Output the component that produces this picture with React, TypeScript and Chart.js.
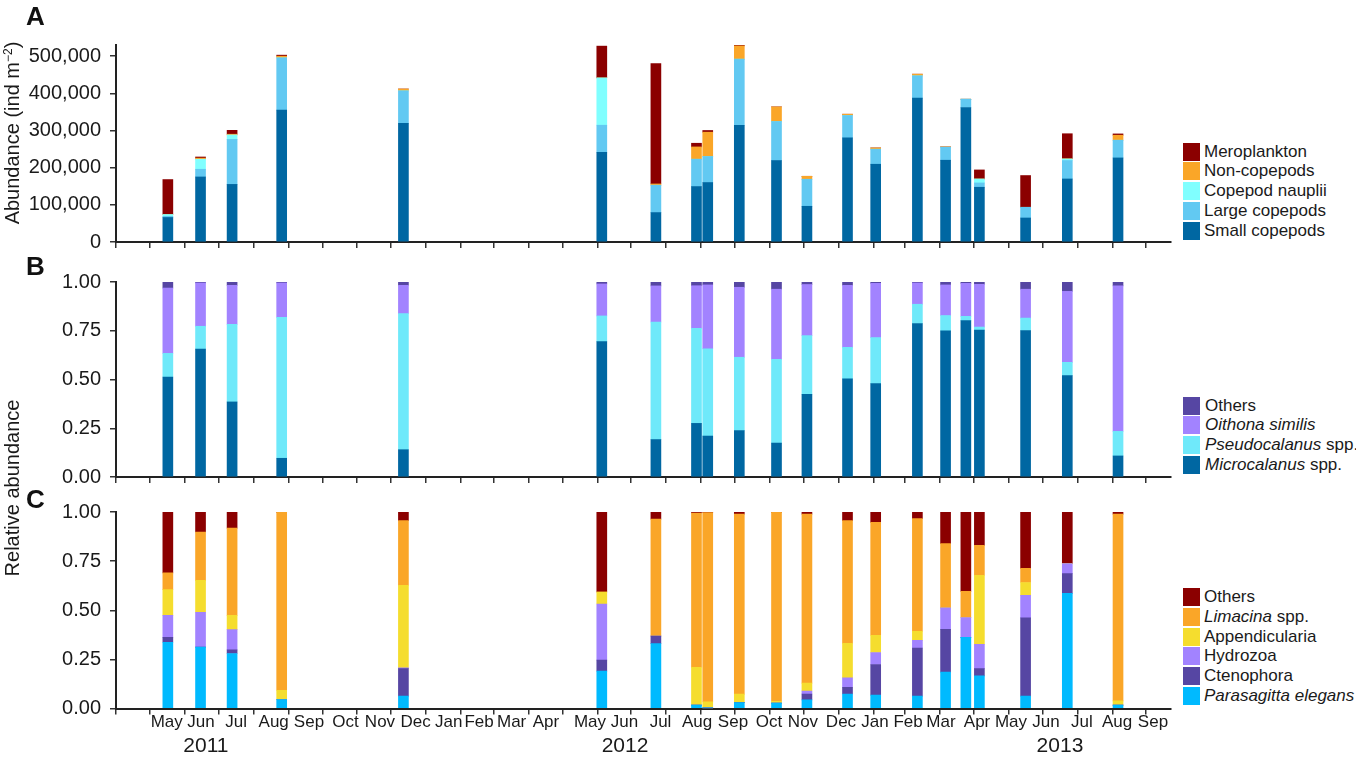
import React, { useEffect, useRef } from "react";
import { Chart, registerables } from "chart.js";

Chart.register(...registerables);

const FONT = "'Liberation Sans', Arial, Helvetica, sans-serif";
Chart.defaults.font.family = FONT;
Chart.defaults.color = "#1a1a1a";

// ---------- time axis (days since 2011-04-01) ----------
const AXIS_ORIGIN = "2011-04-01";
const AXIS_END_DAY = 936;

const sampleDates = [
  "2011-05-17", "2011-06-15", "2011-07-13", "2011-08-26", "2011-12-12",
  "2012-06-05", "2012-07-23", "2012-08-28", "2012-09-07", "2012-10-05",
  "2012-11-07", "2012-12-04", "2013-01-09", "2013-02-03", "2013-03-12",
  "2013-04-06", "2013-04-24", "2013-05-06", "2013-06-16", "2013-07-23",
  "2013-09-06",
];

const monthLabelNames = [
  "May", "Jun", "Jul", "Aug", "Sep", "Oct", "Nov", "Dec",
  "Jan", "Feb", "Mar", "Apr", "May", "Jun", "Jul", "Aug", "Sep", "Oct", "Nov", "Dec",
  "Jan", "Feb", "Mar", "Apr", "May", "Jun", "Jul", "Aug", "Sep",
];
const monthLabelDays = [
  45, 75.4, 106.5, 139.9, 171.2, 203.6, 234.2, 265.8,
  295.2, 322.1, 351, 381.5, 420.5, 451.2, 483.1, 515.5, 547.4, 579.3, 609.5, 643.2,
  673.4, 702.7, 731.9, 763.9, 794, 825.1, 857, 888.1, 920,
];
const yearLabelNames = ["2011", "2012", "2013"];
const yearLabelDays = [79.8, 451.6, 837.5];

// ---------- Panel A: abundance (ind m^-2) ----------
const abundanceTicks = [0, 100000, 200000, 300000, 400000, 500000];
const smallCopepods = [66000, 175000, 155000, 354600, 319600, 241500, 79200, 149200, 160000, 314200, 219200, 96100, 280000, 209200, 386900, 220000, 361900, 147300, 64600, 169600, 226200];
const largeCopepods = [3000, 20700, 121000, 140800, 87000, 72700, 73500, 73500, 70000, 177700, 105000, 72700, 60300, 40400, 60100, 35000, 22300, 11600, 28800, 49600, 47600];
const copepodNauplii = [5000, 27000, 12000, 0, 0, 127400, 0, 0, 0, 0, 0, 0, 0, 0, 0, 0, 0, 10700, 0, 4300, 0];
const nonCopepods = [500, 3000, 2000, 4600, 5000, 0, 3500, 33100, 65500, 35800, 39300, 8000, 3500, 3500, 4500, 1000, 0, 0, 0, 500, 13500];
const meroplankton = [93500, 3000, 10500, 2700, 0, 85400, 324100, 9900, 4500, 2000, 0, 0, 0, 0, 0, 0, 0, 24300, 85400, 67300, 3500];

// ---------- Panel B: copepod relative abundance ----------
const relTicks = [0, 0.25, 0.5, 0.75, 1];
const microcalanus = [0.513, 0.656, 0.385, 0.096, 0.140, 0.694, 0.192, 0.275, 0.210, 0.238, 0.174, 0.424, 0.503, 0.479, 0.787, 0.749, 0.802, 0.754, 0.751, 0.520, 0.108];
const pseudocalanus = [0.121, 0.117, 0.398, 0.723, 0.698, 0.132, 0.603, 0.488, 0.447, 0.376, 0.430, 0.301, 0.162, 0.236, 0.099, 0.079, 0.022, 0.015, 0.064, 0.068, 0.126];
const oithona = [0.335, 0.222, 0.200, 0.176, 0.145, 0.164, 0.185, 0.218, 0.328, 0.359, 0.359, 0.262, 0.318, 0.278, 0.109, 0.157, 0.169, 0.219, 0.148, 0.364, 0.746];
const copepodOthers = [0.031, 0.005, 0.017, 0.005, 0.017, 0.010, 0.020, 0.019, 0.015, 0.027, 0.037, 0.013, 0.017, 0.007, 0.005, 0.015, 0.007, 0.012, 0.037, 0.048, 0.020];

// ---------- Panel C: non-copepod relative abundance ----------
const parasagitta = [0.337, 0.312, 0.280, 0.046, 0.063, 0.190, 0.330, 0.017, 0.003, 0.030, 0.027, 0.044, 0.074, 0.068, 0.063, 0.185, 0.362, 0.166, 0.063, 0.586, 0.017];
const ctenophora = [0.025, 0, 0.018, 0, 0.140, 0.056, 0.039, 0, 0, 0, 0, 0.030, 0.034, 0.156, 0.245, 0.218, 0, 0.037, 0.398, 0.100, 0];
const hydrozoa = [0.112, 0.178, 0.103, 0, 0.004, 0.286, 0, 0, 0, 0, 0, 0.015, 0.048, 0.061, 0.039, 0.109, 0.101, 0.124, 0.115, 0.051, 0];
const appendicularia = [0.131, 0.162, 0.073, 0.047, 0.420, 0.061, 0, 0.193, 0.031, 0.043, 0.010, 0.040, 0.176, 0.088, 0.046, 0, 0, 0.351, 0.065, 0, 0.022];
const limacina = [0.085, 0.246, 0.444, 0.905, 0.329, 0, 0.595, 0.785, 0.963, 0.916, 0.961, 0.860, 0.624, 0.574, 0.573, 0.327, 0.133, 0.152, 0.072, 0, 0.950];
const nonCopOthers = [0.310, 0.102, 0.082, 0.002, 0.044, 0.407, 0.036, 0.005, 0.003, 0.011, 0.002, 0.011, 0.044, 0.053, 0.034, 0.161, 0.404, 0.170, 0.287, 0.263, 0.011];

// ---------- colours ----------
const C_DARKBLUE = "#0067A2";
const C_SKY = "#62C9F2";
const C_NAUPLII = "#80FFFF";
const C_ORANGE = "#FAA628";
const C_DARKRED = "#8B0000";
const C_PURPLE = "#5646A3";
const C_LAVENDER = "#A283FF";
const C_PSEUDO = "#6FE9FA";
const C_YELLOW = "#F5DD2E";
const C_PARA = "#00BAFF";

const DAY_MS = 86400000;
function dayOf(s: string) {
  const [y, m, d] = s.split("-").map(Number);
  const [y0, m0, d0] = AXIS_ORIGIN.split("-").map(Number);
  return (Date.UTC(y, m - 1, d) - Date.UTC(y0, m0 - 1, d0)) / DAY_MS;
}
function monthStarts() {
  const out: number[] = [];
  const [y0, m0] = AXIS_ORIGIN.split("-").map(Number);
  for (let k = 0; k < 40; k++) {
    const v = (Date.UTC(y0, m0 - 1 + k, 1) - Date.UTC(y0, m0 - 1, 1)) / DAY_MS;
    if (v > AXIS_END_DAY) break;
    out.push(v);
  }
  return out;
}

const sampleDays = sampleDates.map(dayOf);

function ds(label: string, values: number[], color: string) {
  return {
    label,
    data: values.map((v, i) => ({ x: sampleDays[i], y: v })),
    backgroundColor: color,
    borderWidth: 0,
    barThickness: 10,
    xAxisID: "x",
    yAxisID: "y",
  };
}

const AXIS_COLOR = "#222";
const TICK_COLOR = "#333";

function tickAxis() {
  const starts = monthStarts();
  return {
    type: "linear",
    position: "bottom",
    weight: 0,
    min: 0,
    max: AXIS_END_DAY,
    offset: false,
    stacked: true,
    afterBuildTicks: (s: any) => {
      s.ticks = starts.map((v) => ({ value: v }));
    },
    ticks: { display: false },
    grid: { display: true, drawOnChartArea: false, drawTicks: true, tickLength: 6, color: TICK_COLOR, lineWidth: 1.5, offset: false },
    border: { display: true, color: AXIS_COLOR, width: 2 },
  };
}

function yAxis(max: number, tickVals: number[], fmt: (v: number) => string) {
  return {
    type: "linear",
    position: "left",
    stacked: true,
    min: 0,
    max,
    afterBuildTicks: (s: any) => {
      s.ticks = tickVals.map((v) => ({ value: v }));
    },
    afterFit: (s: any) => {
      s.width = 116;
    },
    ticks: { font: { size: 20, family: FONT }, color: "#1a1a1a", padding: 9, callback: (v: any) => fmt(Number(v)) },
    grid: { display: true, drawOnChartArea: false, drawTicks: true, tickLength: 6, color: TICK_COLOR, lineWidth: 1.5 },
    border: { display: true, color: AXIS_COLOR, width: 2 },
  };
}

function baseOptions(padTop: number, padBottom: number, scales: any) {
  return {
    responsive: true,
    maintainAspectRatio: false,
    animation: false,
    events: [],
    layout: { padding: { left: 0, right: 9, top: padTop, bottom: padBottom } },
    plugins: { legend: { display: false }, tooltip: { enabled: false }, title: { display: false } },
    scales,
  };
}

const fmtAbund = (v: number) => v.toLocaleString("en-US");
const fmtRel = (v: number) => v.toFixed(2);

type LegendItem = { color: string; node: React.ReactNode };

function Legend({ top, items, textLeft = 4 }: { top: number; items: LegendItem[]; textLeft?: number }) {
  return (
    <>
      {items.map((it, i) => (
        <div
          key={i}
          style={{
            position: "absolute",
            left: 1183,
            top: top + i * 19.7,
            height: 18,
            display: "flex",
            alignItems: "center",
            whiteSpace: "nowrap",
          }}
        >
          <div style={{ width: 17, height: 18, background: it.color }} />
          <div style={{ marginLeft: textLeft, fontSize: 17, lineHeight: "18px", color: "#1a1a1a", fontFamily: FONT }}>{it.node}</div>
        </div>
      ))}
    </>
  );
}

export default function App() {
  const refA = useRef<HTMLCanvasElement | null>(null);
  const refB = useRef<HTMLCanvasElement | null>(null);
  const refC = useRef<HTMLCanvasElement | null>(null);

  useEffect(() => {
    const charts: Chart[] = [];

    charts.push(
      new Chart(refA.current as HTMLCanvasElement, {
        type: "bar",
        data: {
          datasets: [
            ds("Small copepods", smallCopepods, C_DARKBLUE),
            ds("Large copepods", largeCopepods, C_SKY),
            ds("Copepod nauplii", copepodNauplii, C_NAUPLII),
            ds("Non-copepods", nonCopepods, C_ORANGE),
            ds("Meroplankton", meroplankton, C_DARKRED),
          ],
        },
        options: baseOptions(45, 16, { x: tickAxis(), y: yAxis(530000, abundanceTicks, fmtAbund) }) as any,
      } as any)
    );

    charts.push(
      new Chart(refB.current as HTMLCanvasElement, {
        type: "bar",
        data: {
          datasets: [
            ds("Microcalanus spp.", microcalanus, C_DARKBLUE),
            ds("Pseudocalanus spp.", pseudocalanus, C_PSEUDO),
            ds("Oithona similis", oithona, C_LAVENDER),
            ds("Others", copepodOthers, C_PURPLE),
          ],
        },
        options: baseOptions(24, 16, { x: tickAxis(), y: yAxis(1, relTicks, fmtRel) }) as any,
      } as any)
    );

    charts.push(
      new Chart(refC.current as HTMLCanvasElement, {
        type: "bar",
        data: {
          datasets: [
            ds("Parasagitta elegans", parasagitta, C_PARA),
            ds("Ctenophora", ctenophora, C_PURPLE),
            ds("Hydrozoa", hydrozoa, C_LAVENDER),
            ds("Appendicularia", appendicularia, C_YELLOW),
            ds("Limacina spp.", limacina, C_ORANGE),
            ds("Others", nonCopOthers, C_DARKRED),
          ],
        },
        options: baseOptions(24, 0, {
          x: tickAxis(),
          xm: {
            type: "linear",
            axis: "x",
            position: "bottom",
            weight: 1,
            min: 0,
            max: AXIS_END_DAY,
            offset: false,
            afterBuildTicks: (s: any) => {
              s.ticks = monthLabelDays.map((v) => ({ value: v }));
            },
            ticks: {
              autoSkip: false,
              maxRotation: 0,
              minRotation: 0,
              padding: -0.5,
              color: "#1a1a1a",
              font: { size: 17, lineHeight: 1, family: FONT },
              callback: (_v: any, i: number) => monthLabelNames[i],
            },
            grid: { display: false, drawTicks: false, tickLength: 0 },
            border: { display: false },
          },
          xy: {
            type: "linear",
            axis: "x",
            position: "bottom",
            weight: 2,
            min: 0,
            max: AXIS_END_DAY,
            offset: false,
            afterBuildTicks: (s: any) => {
              s.ticks = yearLabelDays.map((v) => ({ value: v }));
            },
            ticks: {
              autoSkip: false,
              maxRotation: 0,
              minRotation: 0,
              padding: 0,
              color: "#1a1a1a",
              font: { size: 21, lineHeight: 1.5, family: FONT },
              callback: (_v: any, i: number) => yearLabelNames[i],
            },
            grid: { display: false, drawTicks: false, tickLength: 0 },
            border: { display: false },
          },
          y: yAxis(1, relTicks, fmtRel),
        }) as any,
      } as any)
    );

    return () => {
      charts.forEach((c) => c.destroy());
    };
  }, []);

  const letter = (t: string, top: number) => (
    <div style={{ position: "absolute", left: 26, top, fontSize: 26, lineHeight: "26px", fontWeight: "bold", fontFamily: FONT, color: "#111" }}>{t}</div>
  );

  const rotTitle = (node: React.ReactNode, cx: number, cy: number) => (
    <div
      style={{
        position: "absolute",
        left: cx,
        top: cy,
        transform: "translate(-50%, -50%) rotate(-90deg)",
        whiteSpace: "nowrap",
        fontSize: 20,
        lineHeight: "22px",
        fontFamily: FONT,
        color: "#1a1a1a",
      }}
    >
      {node}
    </div>
  );

  return (
    <div style={{ position: "absolute", left: 0, top: 0, width: 1356, height: 757, overflow: "hidden", background: "#fff", fontFamily: FONT }}>
      <div style={{ position: "absolute", left: 0, top: 0, width: 1180, height: 264 }}>
        <canvas ref={refA} />
      </div>
      <div style={{ position: "absolute", left: 0, top: 258, width: 1180, height: 241 }}>
        <canvas ref={refB} />
      </div>
      <div style={{ position: "absolute", left: 0, top: 488, width: 1180, height: 274 }}>
        <canvas ref={refC} />
      </div>

      {letter("A", 3)}
      {letter("B", 253)}
      {letter("C", 486)}

      {rotTitle(
        <span>
          Abundance (ind m<sup style={{ fontSize: 12, verticalAlign: "7px", lineHeight: 0 }}>−2</sup>)
        </span>,
        12,
        133
      )}
      {rotTitle(<span>Relative abundance</span>, 12, 488)}

      <Legend
        top={142.7}
        items={[
          { color: C_DARKRED, node: "Meroplankton" },
          { color: C_ORANGE, node: "Non-copepods" },
          { color: C_NAUPLII, node: "Copepod nauplii" },
          { color: C_SKY, node: "Large copepods" },
          { color: C_DARKBLUE, node: "Small copepods" },
        ]}
      />
      <Legend
        top={396.7}
        textLeft={5}
        items={[
          { color: C_PURPLE, node: "Others" },
          { color: C_LAVENDER, node: <i>Oithona similis</i> },
          { color: C_PSEUDO, node: <span><i>Pseudocalanus</i> spp.</span> },
          { color: C_DARKBLUE, node: <span><i>Microcalanus</i> spp.</span> },
        ]}
      />
      <Legend
        top={588.3}
        items={[
          { color: C_DARKRED, node: "Others" },
          { color: C_ORANGE, node: <span><i>Limacina</i> spp.</span> },
          { color: C_YELLOW, node: "Appendicularia" },
          { color: C_LAVENDER, node: "Hydrozoa" },
          { color: C_PURPLE, node: "Ctenophora" },
          { color: C_PARA, node: <i>Parasagitta elegans</i> },
        ]}
      />
    </div>
  );
}
